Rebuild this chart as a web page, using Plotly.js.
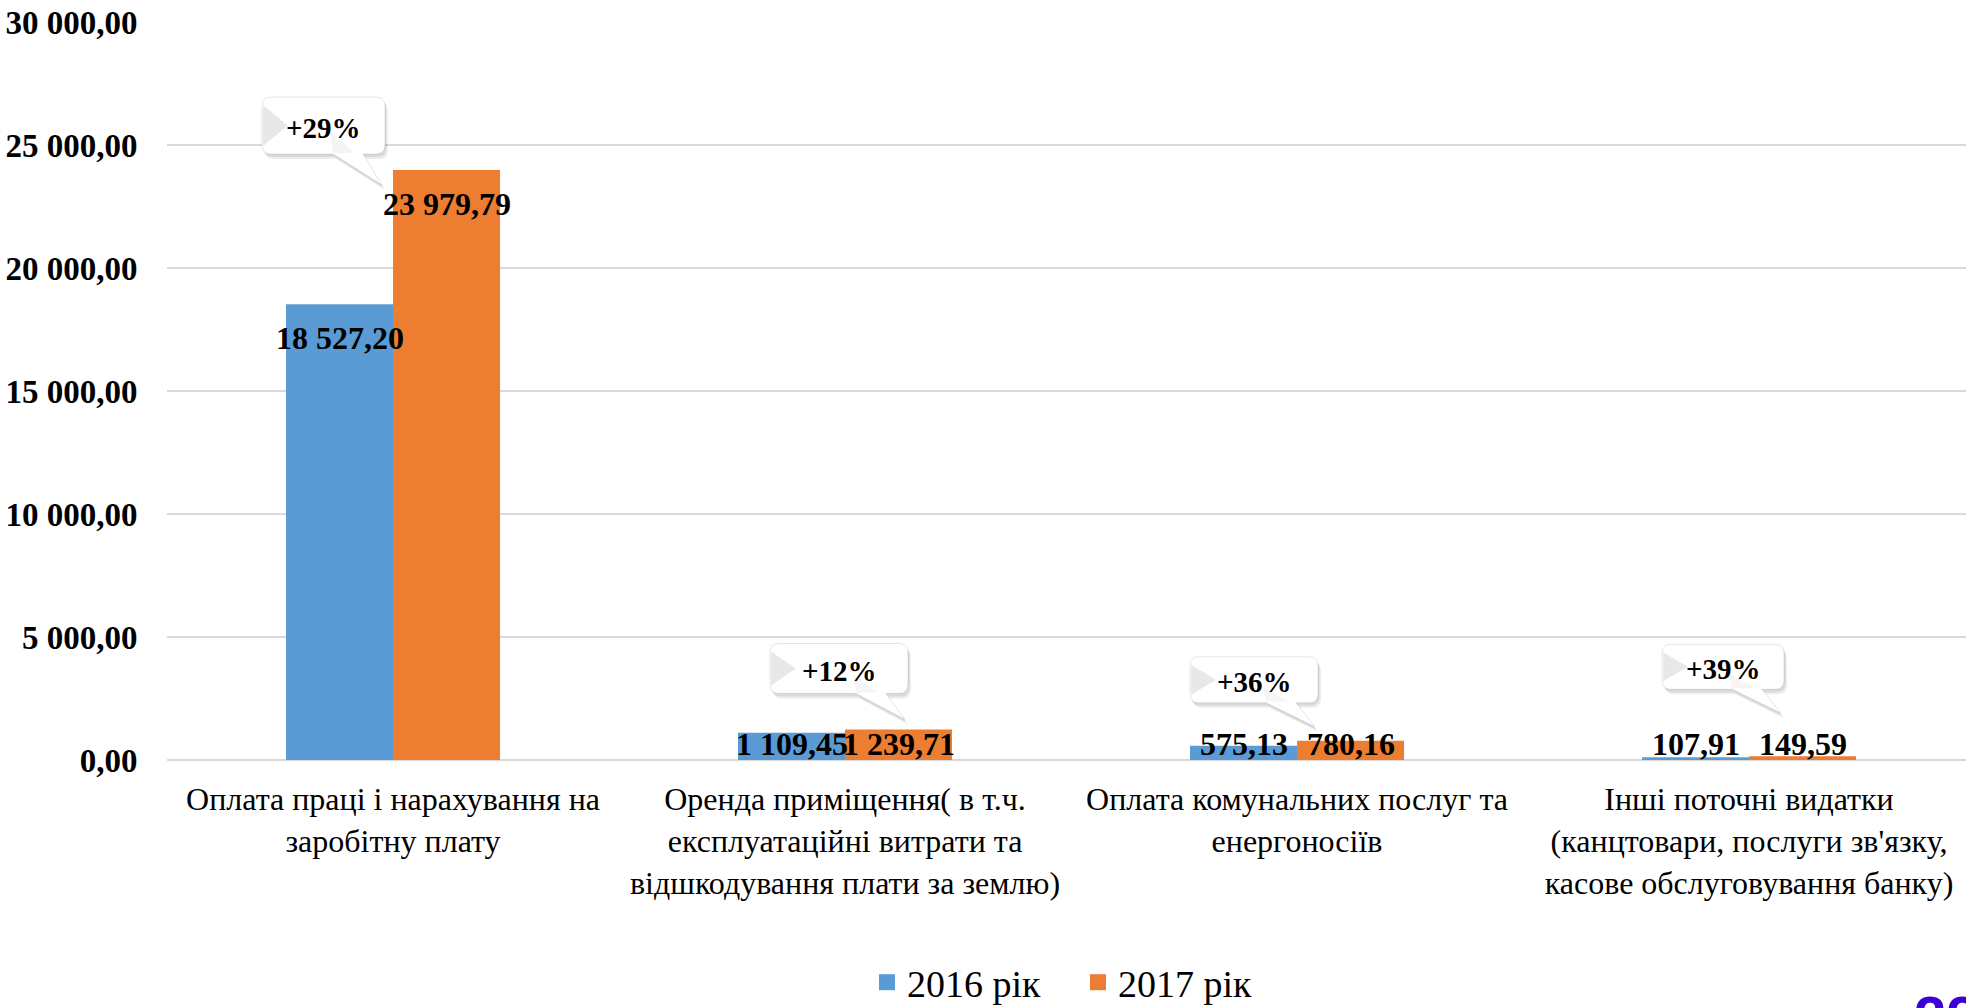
<!DOCTYPE html>
<html>
<head>
<meta charset="utf-8">
<script src="https://cdn.plot.ly/plotly-3.0.1.min.js"></script>
<style>html,body{margin:0;padding:0;background:#fff;}#chart{width:1966px;height:1008px;}</style>
</head>
<body>
<div id="chart"></div>
<script>
// ---- data ----
const categories = [
  "Оплата праці і нарахування на<br>заробітну плату",
  "Оренда приміщення( в т.ч.<br>експлуатаційні витрати та<br>відшкодування плати за землю)",
  "Оплата комунальних послуг та<br>енергоносіїв",
  "Інші поточні видатки<br>(канцтовари, послуги зв'язку,<br>касове обслуговування банку)"
];
const seriesNames = ["2016 рік", "2017 рік"];
const values2016 = [18527.20, 1109.45, 575.13, 107.91];
const values2017 = [23979.79, 1239.71, 780.16, 149.59];
const yTickValues = [0, 5000, 10000, 15000, 20000, 25000, 30000];

// ---- layout geometry ----
const W = 1966, Hgt = 1008;
const M = {l: 167, r: 0, t: 22, b: 248, autoexpand: false};
const PW = W - M.l - M.r, PH = Hgt - M.t - M.b;
const YMAX = 30000;
const XR = [-0.5, 3.48];
const catPx = i => M.l + (i - XR[0]) / (XR[1] - XR[0]) * PW;
const valPx = v => M.t + PH - v / YMAX * PH;
const px2x = p => (p - M.l) / PW;
const px2y = p => (M.t + PH - p) / PH;
const BARHALF = 53.5;

const blue = "#5b9bd5", orange = "#ed7d31";
const serif = "'Liberation Serif', 'Times New Roman', serif";

function fmt(v) {
  const parts = v.toFixed(2).split(".");
  parts[0] = parts[0].replace(/\B(?=(\d{3})+(?!\d))/g, " ");
  return parts[0] + "," + parts[1];
}

const traces = [
  {type: "bar", name: seriesNames[0], x: categories, y: values2016, marker: {color: blue}, hoverinfo: "none", showlegend: false},
  {type: "bar", name: seriesNames[1], x: categories, y: values2017, marker: {color: orange}, hoverinfo: "none", showlegend: false},
  // legend entries (larger square swatches)
  {type: "scatter", mode: "markers", name: seriesNames[0], x: [null], y: [null], marker: {symbol: "square", size: 18, color: blue}, showlegend: true, hoverinfo: "none"},
  {type: "scatter", mode: "markers", name: seriesNames[1], x: [null], y: [null], marker: {symbol: "square", size: 18, color: orange}, showlegend: true, hoverinfo: "none"}
];

const annotations = [];
[values2016, values2017].forEach((arr, s) => {
  arr.forEach((v, i) => {
    const h = v / YMAX * PH;
    const drop = Math.min(34, h - 16);
    annotations.push({
      x: i, y: v, xref: "x", yref: "y",
      xshift: s === 0 ? -BARHALF : BARHALF, yshift: -drop,
      yanchor: "middle", xanchor: "center",
      text: fmt(v), showarrow: false,
      font: {family: serif, size: 32, color: "#000", weight: "bold"}
    });
  });
});

// speech-bubble callouts (tip offsets relative to orange bar's top-left corner, box sizes)
const bubbles = [
  {dx: -11, dy: 15, w: 123, h: 57, gap: 31},
  {dx: 60, dy: -10, w: 138, h: 50, gap: 26},
  {dx: 18, dy: -14, w: 128, h: 46, gap: 24},
  {dx: 32, dy: -43, w: 122, h: 45, gap: 24}
];
const shapes = [];
function bubblePath(tx, ty, b, ox, oy) {
  const r = 9;
  const right = tx + 3 + ox, left = right - b.w;
  const bottom = ty - b.gap + oy, top = bottom - b.h;
  const t1 = tx - 49 + ox, t2 = tx - 19 + ox;
  const P = (x, y) => px2x(x).toFixed(6) + "," + px2y(y).toFixed(6);
  return "M" + P(left + r, top) +
    " L" + P(right - r, top) +
    " Q" + P(right, top) + " " + P(right, top + r) +
    " L" + P(right, bottom - r) +
    " Q" + P(right, bottom) + " " + P(right - r, bottom) +
    " L" + P(t2, bottom) +
    " L" + P(tx + ox, ty + oy) +
    " L" + P(t1, bottom) +
    " L" + P(left + r, bottom) +
    " Q" + P(left, bottom) + " " + P(left, bottom - r) +
    " L" + P(left, top + r) +
    " Q" + P(left, top) + " " + P(left + r, top) + " Z";
}
bubbles.forEach((b, i) => {
  const tx = catPx(i) + b.dx, ty = valPx(values2017[i]) + b.dy;
  shapes.push({type: "path", xref: "paper", yref: "paper", layer: "above", path: bubblePath(tx, ty, b, 3, 5), fillcolor: "rgba(0,0,0,0.07)", line: {width: 0}});
  shapes.push({type: "path", xref: "paper", yref: "paper", layer: "above", path: bubblePath(tx, ty, b, 1.5, 3), fillcolor: "rgba(0,0,0,0.08)", line: {width: 0}});
  shapes.push({type: "path", xref: "paper", yref: "paper", layer: "above", path: bubblePath(tx, ty, b, 0, 0), fillcolor: "#ffffff", line: {color: "rgba(0,0,0,0.10)", width: 1}});
  const right = tx + 3, left = right - b.w, bottom = ty - b.gap, top = bottom - b.h;
  const P = (x, y) => px2x(x).toFixed(6) + "," + px2y(y).toFixed(6);
  shapes.push({type: "path", xref: "paper", yref: "paper", layer: "above",
    path: "M" + P(left + 1, top + 8) + " L" + P(left + 26, (top + bottom) / 2) + " L" + P(left + 1, bottom - 8) + " Z",
    fillcolor: "rgba(0,0,0,0.09)", line: {width: 0}});
  shapes.push({type: "path", xref: "paper", yref: "paper", layer: "above",
    path: "M" + P(right - 30, bottom - 1) + " L" + P(right - 55, (top + bottom) / 2 + 6) + " L" + P(tx - 49, bottom - 1) + " Z",
    fillcolor: "rgba(0,0,0,0.04)", line: {width: 0}});
  const pct = Math.round((values2017[i] / values2016[i] - 1) * 100);
  annotations.push({
    xref: "paper", yref: "paper", x: px2x((left + right) / 2), y: px2y((top + bottom) / 2 + 2),
    xanchor: "center", yanchor: "middle", showarrow: false,
    text: "+" + pct + "%",
    font: {family: serif, size: 29, color: "#000", weight: "bold"}
  });
});

// slide number fragment, bottom-right corner (cut off by the page edge, as in the source)
annotations.push({
  xref: "paper", yref: "paper", x: px2x(1912), y: px2y(982), xanchor: "left", yanchor: "top",
  showarrow: false, text: "22",
  font: {family: "'Liberation Sans', Arial, sans-serif", size: 58, color: "#3f00d4", weight: "bold"}
});

const layout = {
  width: W, height: Hgt,
  margin: M,
  paper_bgcolor: "#fff", plot_bgcolor: "#fff",
  separators: ", ",
  barmode: "group",
  bargap: 0.5265, bargroupgap: 0,
  showlegend: true,
  legend: {orientation: "h", x: px2x(1078), xanchor: "center", y: px2y(951), yanchor: "top",
    font: {family: serif, size: 38, color: "#000"}, itemclick: false, traceorder: "normal",
    itemsizing: "trace", itemwidth: 30, entrywidth: 166, entrywidthmode: "pixels", tracegroupgap: 0},
  xaxis: {type: "category", range: XR, showgrid: false, zeroline: false, showline: false,
    ticks: "outside", ticklen: 11, tickcolor: "rgba(0,0,0,0)",
    tickfont: {family: serif, size: 32, color: "#000"}, tickangle: 0, automargin: false},
  yaxis: {range: [0, YMAX], tickvals: yTickValues, tickformat: ",.2f",
    showgrid: true, gridcolor: "#d9d9d9", gridwidth: 1.5,
    zeroline: true, zerolinecolor: "#d9d9d9", zerolinewidth: 2, showline: false,
    ticks: "outside", ticklen: 22, tickcolor: "rgba(0,0,0,0)",
    tickfont: {family: serif, size: 33, color: "#000", weight: "bold"}, automargin: false},
  shapes: shapes,
  annotations: annotations
};

Plotly.newPlot("chart", traces, layout, {displayModeBar: false, staticPlot: true});
</script>
</body>
</html>
